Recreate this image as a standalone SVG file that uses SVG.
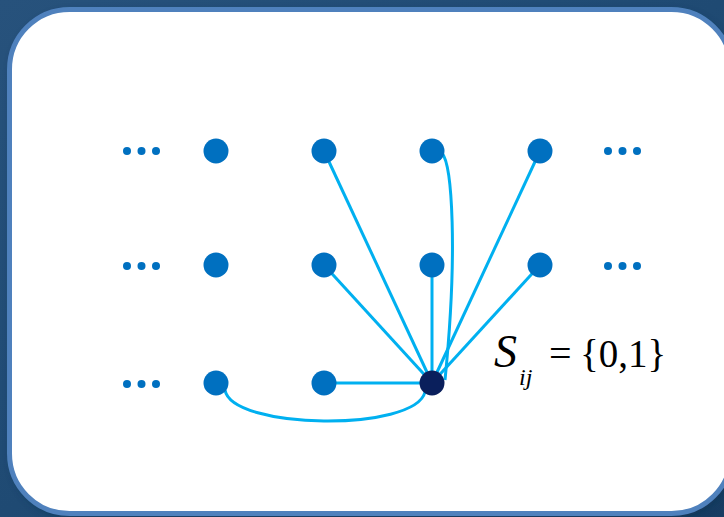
<svg xmlns="http://www.w3.org/2000/svg" width="724" height="517" viewBox="0 0 724 517">
<defs>
<linearGradient id="bg" x1="0" y1="0" x2="1" y2="1">
<stop offset="0" stop-color="#27527c"/>
<stop offset="0.5" stop-color="#1f4a73"/>
<stop offset="1" stop-color="#173c62"/>
</linearGradient>
<filter id="sh" x="-10%" y="-10%" width="120%" height="120%">
<feGaussianBlur stdDeviation="4"/>
</filter>
</defs>
<style>
.n{fill:#0070c0}
.e{stroke:#00b0f0;stroke-width:3;fill:none}
.d{fill:#0070c0}
.t{fill:#000}
</style>
<rect width="724" height="517" fill="url(#bg)"/>
<rect x="12" y="12" width="722" height="506" rx="62" fill="#10304f" opacity="0.6" filter="url(#sh)"/>
<rect x="9.5" y="9.5" width="722" height="504" rx="60" fill="#fff" stroke="#4f81bd" stroke-width="5"/>
<g id="connectors">
<line class="e" x1="432" y1="383" x2="324" y2="151"/>
<line class="e" x1="432" y1="383" x2="324" y2="265"/>
<line class="e" x1="432" y1="383" x2="432" y2="265"/>
<line class="e" x1="432" y1="383" x2="540" y2="151"/>
<line class="e" x1="432" y1="383" x2="540" y2="265"/>
<line class="e" x1="432" y1="383" x2="324" y2="383"/>
<path class="e" d="M442 153 C452 165 458 250 445 380"/>
<path class="e" d="M225 390 C232 430 415 432 425 392"/>
</g>
<g id="dots-left">
<circle class="d" cx="127" cy="151" r="4"/><circle class="d" cx="141.5" cy="151" r="4"/><circle class="d" cx="156" cy="151" r="4"/>
<circle class="d" cx="127" cy="266" r="4"/><circle class="d" cx="141.5" cy="266" r="4"/><circle class="d" cx="156" cy="266" r="4"/>
<circle class="d" cx="127" cy="384" r="4"/><circle class="d" cx="141.5" cy="384" r="4"/><circle class="d" cx="156" cy="384" r="4"/>
</g>
<g id="dots-right">
<circle class="d" cx="608" cy="151" r="4"/><circle class="d" cx="622.5" cy="151" r="4"/><circle class="d" cx="637" cy="151" r="4"/>
<circle class="d" cx="608" cy="266" r="4"/><circle class="d" cx="622.5" cy="266" r="4"/><circle class="d" cx="637" cy="266" r="4"/>
</g>
<g id="n11"><circle class="n" cx="216" cy="151" r="12.5"/></g>
<g id="n12"><circle class="n" cx="324" cy="151" r="12.5"/></g>
<g id="n13"><circle class="n" cx="432" cy="151" r="12.5"/></g>
<g id="n14"><circle class="n" cx="540" cy="151" r="12.5"/></g>
<g id="n21"><circle class="n" cx="216" cy="265" r="12.5"/></g>
<g id="n22"><circle class="n" cx="324" cy="265" r="12.5"/></g>
<g id="n23"><circle class="n" cx="432" cy="265" r="12.5"/></g>
<g id="n24"><circle class="n" cx="540" cy="265" r="12.5"/></g>
<g id="n31"><circle class="n" cx="216" cy="383" r="12.5"/></g>
<g id="n32"><circle class="n" cx="324" cy="383" r="12.5"/></g>
<g id="n33"><circle cx="432" cy="383" r="12.5" fill="#0a1f5c"/></g>
<g id="label" font-family="'Liberation Serif', 'Times New Roman', serif">
<text class="t" x="494" y="367" font-size="46" font-style="italic">S</text>
<text class="t" x="519" y="385" font-size="24" font-style="italic">ij</text>
<text class="t" x="549" y="367" font-size="40">=</text>
<text class="t" x="580" y="367" font-size="39">{0,1}</text>
</g>
</svg>
